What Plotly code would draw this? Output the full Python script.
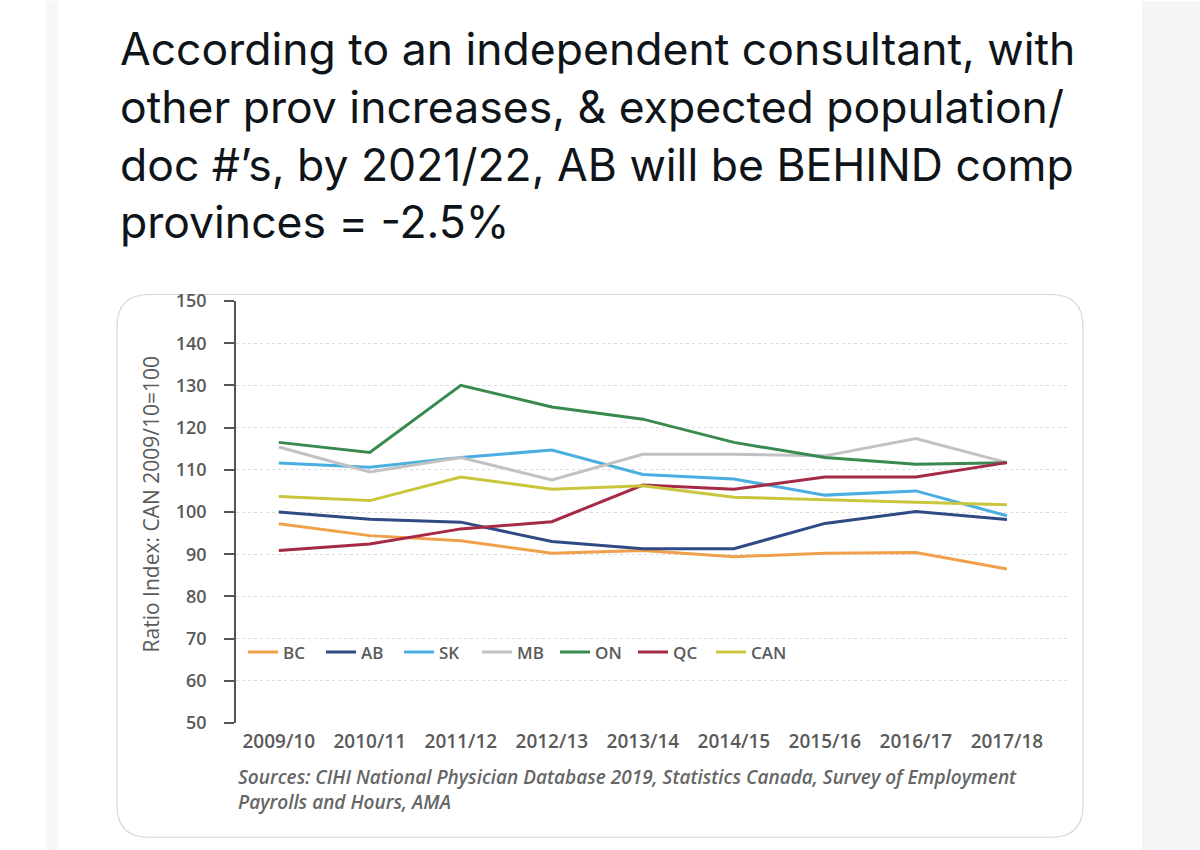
import plotly.graph_objects as go

# ---------------- data ----------------
years = ["2009/10", "2010/11", "2011/12", "2012/13", "2013/14",
         "2014/15", "2015/16", "2016/17", "2017/18"]

BC = [97.2, 94.4, 93.2, 90.2, 90.9, 89.4, 90.2, 90.4, 86.5]
AB = [100.0, 98.3, 97.6, 93.0, 91.3, 91.3, 97.3, 100.1, 98.2]
SK = [111.6, 110.6, 112.9, 114.7, 108.9, 107.8, 104.0, 105.0, 99.1]
MB = [115.4, 109.5, 112.9, 107.6, 113.7, 113.7, 113.3, 117.4, 111.7]
ON = [116.5, 114.1, 130.0, 124.9, 122.0, 116.5, 112.9, 111.3, 111.7]
QC = [90.9, 92.4, 96.0, 97.7, 106.4, 105.4, 108.3, 108.3, 111.7]
CAN = [103.7, 102.7, 108.3, 105.4, 106.2, 103.5, 102.9, 102.3, 101.7]

series_names = ["BC", "AB", "SK", "MB", "ON", "QC", "CAN"]
series_values = [BC, AB, SK, MB, ON, QC, CAN]
series_colors = ["#f0a04a", "#2f4a85", "#4aaee0", "#c2c2c2",
                 "#3a8a4f", "#a52a45", "#c9c63d"]

y_ticks = [50, 60, 70, 80, 90, 100, 110, 120, 130, 140, 150]

title_lines = [
    "According to an independent consultant, with",
    "other prov increases, & expected population/",
    "doc #\u2019s, by 2021/22, AB will be BEHIND comp",
    "provinces = -2.5%",
]
y_title = "Ratio Index: CAN 2009/10=100"
sources_lines = [
    "Sources: CIHI National Physician Database 2019, Statistics Canada, Survey of Employment",
    "Payrolls and Hours, AMA",
]

# ---------------- layout geometry (pixels) ----------------
W, H = 1200, 850
PL, PR, PT, PB = 236, 1067, 300.5, 722.7  # plot area


def px(x):
    return (x - PL) / (PR - PL)


def py(y):
    return (PB - y) / (PB - PT)


CHART_FONT = "Open Sans"
GRAY = "#5a5a5a"

fig = go.Figure()
for name, vals, col in zip(series_names, series_values, series_colors):
    fig.add_trace(go.Scatter(
        x=years, y=vals, name=name, mode="lines",
        line=dict(color=col, width=3),
    ))

shapes = []
# page background: light gray side strips
shapes.append(dict(type="rect", xref="paper", yref="paper",
                   x0=px(1142), x1=px(1200), y0=py(850), y1=py(0),
                   fillcolor="#f5f5f7", line=dict(width=0), layer="below"))
shapes.append(dict(type="rect", xref="paper", yref="paper",
                   x0=px(46), x1=px(58), y0=py(850), y1=py(0),
                   fillcolor="#f7f7f9", line=dict(width=0), layer="below"))

# rounded chart box
bx0, bx1, by0, by1, r = 117, 1083, 294, 837, 32
path = (
    f"M {px(bx0 + r)},{py(by0)} L {px(bx1 - r)},{py(by0)} "
    f"Q {px(bx1)},{py(by0)} {px(bx1)},{py(by0 + r)} "
    f"L {px(bx1)},{py(by1 - r)} "
    f"Q {px(bx1)},{py(by1)} {px(bx1 - r)},{py(by1)} "
    f"L {px(bx0 + r)},{py(by1)} "
    f"Q {px(bx0)},{py(by1)} {px(bx0)},{py(by1 - r)} "
    f"L {px(bx0)},{py(by0 + r)} "
    f"Q {px(bx0)},{py(by0)} {px(bx0 + r)},{py(by0)} Z"
)
shapes.append(dict(type="path", xref="paper", yref="paper", path=path,
                   line=dict(color="#d6d6d6", width=1.2), layer="below"))

annotations = []
title_centers = [48, 106, 164, 221]
for txt, cy in zip(title_lines, title_centers):
    annotations.append(dict(
        text=txt, xref="paper", yref="paper", x=px(118), y=py(cy),
        xanchor="left", yanchor="middle", showarrow=False,
        font=dict(family="Inter", size=44.5, color="#0f1419"),
    ))

annotations.append(dict(
    text=y_title, xref="paper", yref="paper", x=px(151), y=py(504),
    xanchor="center", yanchor="middle", showarrow=False, textangle=-90,
    font=dict(family=CHART_FONT, size=21, color=GRAY, weight=500),
))

annotations.append(dict(
    text="<i>" + "<br>".join(sources_lines) + "</i>",
    xref="paper", yref="paper", x=px(236), y=py(789.5),
    xanchor="left", yanchor="middle", align="left", showarrow=False,
    font=dict(family=CHART_FONT, size=19, color="#666666", weight=600),
))

fig.update_layout(
    width=W, height=H,
    margin=dict(l=PL, r=W - PR, t=PT, b=H - PB, pad=0),
    paper_bgcolor="white", plot_bgcolor="white",
    showlegend=True,
    legend=dict(
        orientation="h", xref="paper", yref="paper",
        x=px(243), y=py(652), xanchor="left", yanchor="middle",
        font=dict(family=CHART_FONT, size=17, color=GRAY, weight=600),
        entrywidth=33, bgcolor="rgba(0,0,0,0)", borderwidth=0,
        itemclick=False, itemdoubleclick=False,
    ),
    shapes=shapes,
    annotations=annotations,
    hovermode=False,
)

fig.update_xaxes(
    type="category", range=[-0.47, 8.66],
    showgrid=False, zeroline=False, showline=False, ticks="",
    tickfont=dict(family=CHART_FONT, size=19, color=GRAY, weight=600),
    ticklabelstandoff=5,
)
fig.update_yaxes(
    range=[50, 150], tickvals=y_ticks,
    showgrid=True, gridcolor="#dcdcdc", gridwidth=1, griddash="dot",
    zeroline=False, showline=True, linecolor="#555555", linewidth=1.5,
    ticks="outside", ticklen=10, tickcolor="#555555", tickwidth=1.5,
    tickfont=dict(family=CHART_FONT, size=18, color=GRAY, weight=600),
    ticklabelstandoff=14,
)

fig.write_html("out.html", config={"displayModeBar": False},
               post_script="document.body.style.margin='0';")
